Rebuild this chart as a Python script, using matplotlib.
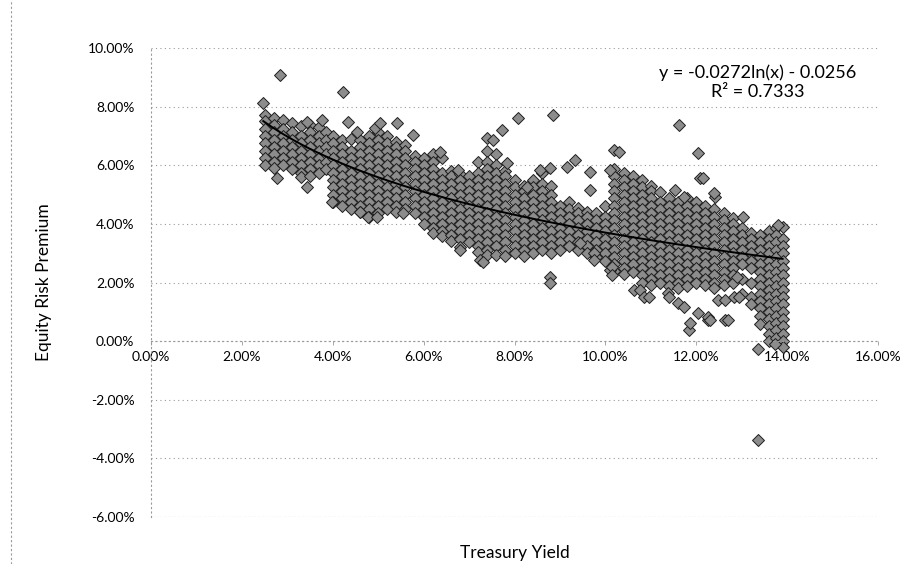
import numpy as np
import matplotlib
matplotlib.use("Agg")
import matplotlib.pyplot as plt
from matplotlib.lines import Line2D
from matplotlib.ticker import FuncFormatter, MultipleLocator

plt.rcParams['font.family'] = ['Lato', 'DejaVu Sans']

# treasury yield (%) of each column of the dense cloud
col_x = [2.5, 2.7, 2.9, 3.1, 3.3, 3.5, 3.7, 3.85, 4.0, 4.2, 4.4, 4.6, 4.8, 5.0, 5.2,
         5.4, 5.6, 5.8, 6.0, 6.2, 6.4, 6.6, 6.8, 7.0, 7.2, 7.4, 7.6, 7.8, 8.0, 8.2,
         8.4, 8.6, 8.8, 9.0, 9.2, 9.4, 9.6, 9.8, 10.0, 10.2, 10.4, 10.6, 10.8, 11.0,
         11.2, 11.4, 11.6, 11.8, 12.0, 12.2, 12.4, 12.6, 12.8, 13.0, 13.2, 13.4,
         13.6, 13.75, 13.9]

# equity risk premium (%) of the points in each column
col_y = [
    [7.7, 7.5, 7.25, 7.0, 6.75, 6.5, 6.25, 6.0],
    [7.62, 7.37, 7.12, 6.87, 6.62, 6.37, 6.12, 5.9],
    [7.55, 7.25, 7.0, 6.75, 6.5, 6.25, 6.0],
    [7.45, 7.12, 6.87, 6.62, 6.37, 6.12, 5.87],
    [7.35, 7.0, 6.75, 6.5, 6.25, 6.0, 5.75, 5.6],
    [7.37, 7.12, 6.87, 6.62, 6.37, 6.12, 5.87, 5.62],
    [7.3, 7.0, 6.75, 6.5, 6.25, 6.0, 5.75],
    [7.15, 6.87, 6.62, 6.37, 6.12, 5.87],
    [7.0, 6.75, 6.5, 6.25, 6.0, 5.75, 5.5, 5.25, 5.0, 4.75],
    [6.87, 6.62, 6.37, 6.12, 5.87, 5.62, 5.37, 5.12, 4.87, 4.62],
    [6.9, 6.5, 6.25, 6.0, 5.75, 5.5, 5.25, 5.0, 4.75, 4.5],
    [6.87, 6.62, 6.37, 6.12, 5.87, 5.62, 5.37, 5.12, 4.87, 4.62, 4.4],
    [7.0, 6.75, 6.5, 6.25, 6.0, 5.75, 5.5, 5.25, 5.0, 4.75, 4.5, 4.25],
    [7.12, 6.87, 6.62, 6.37, 6.12, 5.87, 5.62, 5.37, 5.12, 4.87, 4.62, 4.37],
    [7.0, 6.75, 6.5, 6.25, 6.0, 5.75, 5.5, 5.25, 5.0, 4.75, 4.5],
    [6.8, 6.62, 6.37, 6.12, 5.87, 5.62, 5.37, 5.12, 4.87, 4.62, 4.4],
    [6.7, 6.5, 6.25, 6.0, 5.75, 5.5, 5.25, 5.0, 4.75, 4.5],
    [6.3, 6.12, 5.87, 5.62, 5.37, 5.12, 4.87, 4.62, 4.37],
    [6.25, 6.0, 5.75, 5.5, 5.25, 5.0, 4.75, 4.5, 4.25, 4.0],
    [6.37, 6.12, 5.87, 5.62, 5.37, 5.12, 4.87, 4.62, 4.37, 4.12, 3.87, 3.7],
    [6.25, 5.75, 5.5, 5.25, 5.0, 4.75, 4.5, 4.25, 4.0, 3.75, 3.6],
    [5.8, 5.62, 5.37, 5.12, 4.87, 4.62, 4.37, 4.12, 3.87, 3.62, 3.4],
    [5.7, 5.5, 5.25, 5.0, 4.75, 4.5, 4.25, 4.0, 3.75, 3.5, 3.2],
    [5.62, 5.37, 5.12, 4.87, 4.62, 4.37, 4.12, 3.87, 3.62, 3.37],
    [6.1, 5.75, 5.5, 5.25, 5.0, 4.75, 4.5, 4.25, 4.0, 3.75, 3.5, 3.25, 3.05],
    [6.5, 6.12, 5.87, 5.62, 5.37, 5.12, 4.87, 4.62, 4.37, 4.12, 3.87, 3.62, 3.37, 3.12, 2.95],
    [6.4, 6.0, 5.75, 5.5, 5.25, 5.0, 4.75, 4.5, 4.25, 4.0, 3.75, 3.5, 3.25, 2.95],
    [5.8, 5.62, 5.37, 5.12, 4.87, 4.62, 4.37, 4.12, 3.87, 3.62, 3.37, 3.12, 2.9],
    [5.5, 5.25, 5.0, 4.75, 4.5, 4.25, 4.0, 3.75, 3.5, 3.25, 3.0],
    [5.3, 5.12, 4.87, 4.62, 4.37, 4.12, 3.87, 3.62, 3.37, 3.12, 2.92],
    [5.5, 5.25, 5.0, 4.75, 4.5, 4.25, 4.0, 3.75, 3.5, 3.25, 3.0],
    [5.75, 5.37, 5.12, 4.87, 4.62, 4.37, 4.12, 3.87, 3.62, 3.37, 3.12],
    [5.3, 5.0, 4.75, 4.5, 4.25, 4.0, 3.75, 3.5, 3.25, 3.0],
    [4.62, 4.37, 4.12, 3.87, 3.62, 3.37, 3.12],
    [4.75, 4.5, 4.25, 4.0, 3.75, 3.5, 3.25],
    [4.55, 4.37, 4.12, 3.87, 3.62, 3.37, 3.12],
    [4.4, 4.25, 4.0, 3.75, 3.5, 3.25, 3.0],
    [4.37, 4.12, 3.87, 3.62, 3.37, 3.12, 2.87],
    [4.6, 4.25, 4.0, 3.75, 3.5, 3.25, 3.0, 2.75],
    [5.87, 5.62, 5.37, 5.12, 4.87, 4.62, 4.37, 4.12, 3.87, 3.62, 3.37, 3.12, 2.87, 2.62, 2.4],
    [5.75, 5.5, 5.25, 5.0, 4.75, 4.5, 4.25, 4.0, 3.75, 3.5, 3.25, 3.0, 2.75, 2.5, 2.3],
    [5.62, 5.37, 5.12, 4.87, 4.62, 4.37, 4.12, 3.87, 3.62, 3.37, 3.12, 2.87, 2.62, 2.37],
    [5.5, 5.25, 5.0, 4.75, 4.5, 4.25, 4.0, 3.75, 3.5, 3.25, 3.0, 2.75, 2.5, 2.25, 2.0],
    [5.3, 5.12, 4.87, 4.62, 4.37, 4.12, 3.87, 3.62, 3.37, 3.12, 2.87, 2.62, 2.37, 2.12, 1.9],
    [5.1, 4.75, 4.5, 4.25, 4.0, 3.75, 3.5, 3.25, 3.0, 2.75, 2.5, 2.25, 2.0],
    [4.87, 4.62, 4.37, 4.12, 3.87, 3.62, 3.37, 3.12, 2.87, 2.62, 2.37, 2.12, 1.87],
    [4.75, 4.5, 4.25, 4.0, 3.75, 3.5, 3.25, 3.0, 2.75, 2.5, 2.25, 2.0, 1.8],
    [4.87, 4.62, 4.37, 4.12, 3.87, 3.62, 3.37, 3.12, 2.87, 2.62, 2.37, 2.12, 1.87],
    [4.75, 4.5, 4.25, 4.0, 3.75, 3.5, 3.25, 3.0, 2.75, 2.5, 2.25, 2.0],
    [4.62, 4.37, 4.12, 3.87, 3.62, 3.37, 3.12, 2.87, 2.62, 2.37, 2.12, 1.9],
    [4.5, 4.25, 4.0, 3.75, 3.5, 3.25, 3.0, 2.75, 2.5, 2.25, 2.0, 1.8],
    [4.37, 4.12, 3.87, 3.62, 3.37, 3.12, 2.87, 2.62, 2.37, 2.12, 1.9],
    [4.2, 4.0, 3.75, 3.5, 3.25, 3.0, 2.75, 2.5, 2.25, 2.0],
    [3.87, 3.62, 3.37, 3.12, 2.87, 2.62, 2.12, 1.62],
    [3.7, 3.5, 3.25, 3.0, 2.75, 2.5, 2.0, 1.5, 1.25],
    [3.62, 3.37, 3.12, 2.87, 2.62, 2.37, 2.12, 1.87, 1.62, 1.37, 1.12, 0.87, 0.6],
    [3.75, 3.5, 3.25, 3.0, 2.75, 2.5, 2.25, 2.0, 1.75, 1.5, 1.25, 1.0, 0.75, 0.5, 0.25, 0.0],
    [3.87, 3.62, 3.37, 3.12, 2.87, 2.62, 2.37, 2.12, 1.87, 1.62, 1.37, 1.12, 0.87, 0.62, 0.37, 0.12],
    [3.9, 3.5, 3.25, 3.0, 2.75, 2.5, 2.25, 2.0, 1.75, 1.5, 1.25, 1.0, 0.75, 0.5, 0.25, 0.0, -0.2],
]

# scattered points around the cloud
out_x = [2.84, 4.23, 2.47, 2.78, 3.44, 3.44, 3.77, 4.34, 4.54, 4.93, 5.04, 5.42, 5.77,
         6.37, 6.76, 7.40, 7.73, 7.53, 8.08, 8.85, 7.84, 8.57, 8.79, 9.16, 9.34, 9.67,
         9.67, 10.18, 10.11, 8.28, 3.99, 4.78, 4.60, 4.98, 5.55, 6.80, 7.25, 7.30,
         8.79, 8.79, 9.45, 9.74, 10.11, 9.74, 10.15, 11.61, 10.29, 12.03, 12.09, 12.14,
         11.54, 11.72, 12.42, 12.38, 10.15, 10.62, 10.77, 10.84, 10.95, 11.37, 11.39,
         11.59, 11.72, 11.83, 11.87, 12.03, 12.25, 12.25, 12.47, 12.64, 12.64, 12.69,
         12.82, 12.93, 12.90, 12.31, 13.02, 13.79, 13.35, 13.74, 13.35]
out_y = [9.08, 8.50, 8.12, 5.56, 5.26, 7.47, 7.54, 7.47, 7.13, 7.27, 7.44, 7.44, 7.03,
         6.45, 5.84, 6.93, 7.20, 6.86, 7.61, 7.71, 6.08, 5.84, 5.90, 5.94, 6.18, 5.77,
         5.15, 6.52, 5.84, 5.26, 4.74, 4.23, 4.40, 4.23, 4.37, 3.10, 2.76, 2.70,
         2.18, 2.00, 3.34, 3.00, 2.42, 2.76, 2.53, 7.37, 6.45, 6.42, 5.56, 5.56,
         5.15, 4.91, 4.91, 5.05, 2.25, 1.74, 1.74, 1.50, 1.50, 1.64, 1.50,
         1.30, 1.16, 0.38, 0.61, 0.96, 0.72, 0.82, 1.40, 1.40, 0.72, 0.72,
         1.50, 1.50, 2.18, 0.72, 4.23, 3.96, -0.27, -0.10, -3.38]

# trendline as printed on the chart: y = -0.0272ln(x) - 0.0256
trend_a = -0.0272
trend_b = -0.0256

xs = []
ys = []
for cx, cys in zip(col_x, col_y):
    for cy in cys:
        xs.append(cx)
        ys.append(cy)
xs = xs + out_x
ys = ys + out_y

fig = plt.figure(figsize=(9.17, 5.64), dpi=100)
ax = fig.add_axes([0.1647, 0.0833, 0.7928, 0.8316])

ax.plot(xs, ys, linestyle="none", marker="D", markersize=5.9,
        markerfacecolor="#8c8c8c", markeredgecolor="#1e1e1e", markeredgewidth=0.7)

tx = np.linspace(min(xs), max(xs), 200)
ty = (trend_a * np.log(tx / 100) + trend_b) * 100
ax.plot(tx, ty, color="black", linewidth=1.4)

ax.set_xlim(0, 16)
ax.set_ylim(-6, 10)
ax.xaxis.set_major_locator(MultipleLocator(2))
ax.yaxis.set_major_locator(MultipleLocator(2))
ax.xaxis.set_major_formatter(FuncFormatter(lambda v, p: "%.2f%%" % v))
ax.yaxis.set_major_formatter(FuncFormatter(lambda v, p: "%.2f%%" % v))

ax.grid(axis="y", color="#9a9a9a", linestyle=(0, (1, 3)), linewidth=0.8)
ax.set_axisbelow(True)
ax.spines["bottom"].set_position(("data", 0))
for s in ["bottom", "left"]:
    ax.spines[s].set_color("#9a9a9a")
    ax.spines[s].set_linestyle((0, (1, 3)))
    ax.spines[s].set_linewidth(0.8)
ax.spines["right"].set_visible(False)
ax.spines["top"].set_visible(False)
ax.axhline(-6, color="#9a9a9a", linestyle=(0, (1, 2)), linewidth=0.8)

ax.tick_params(axis="x", length=3, width=0.6, color="#9a9a9a", labelsize=10, pad=4)
ax.tick_params(axis="y", length=0, labelsize=10, pad=12)

ax.set_xlabel("Treasury Yield", fontsize=12.5)
ax.xaxis.set_label_coords(0.5, -0.06)
ax.set_ylabel("Equity Risk Premium", fontsize=12.5, labelpad=26)

ax.text(0.835, 0.965, "y = -0.0272ln(x) - 0.0256\nR² = 0.7333", transform=ax.transAxes,
        ha="center", va="top", fontsize=13, linespacing=1.2)

fig.add_artist(Line2D([0.012, 0.012], [0.0, 1.0], color="#9a9a9a",
                      linestyle=(0, (2, 2)), linewidth=0.8))

plt.savefig("out.png")
